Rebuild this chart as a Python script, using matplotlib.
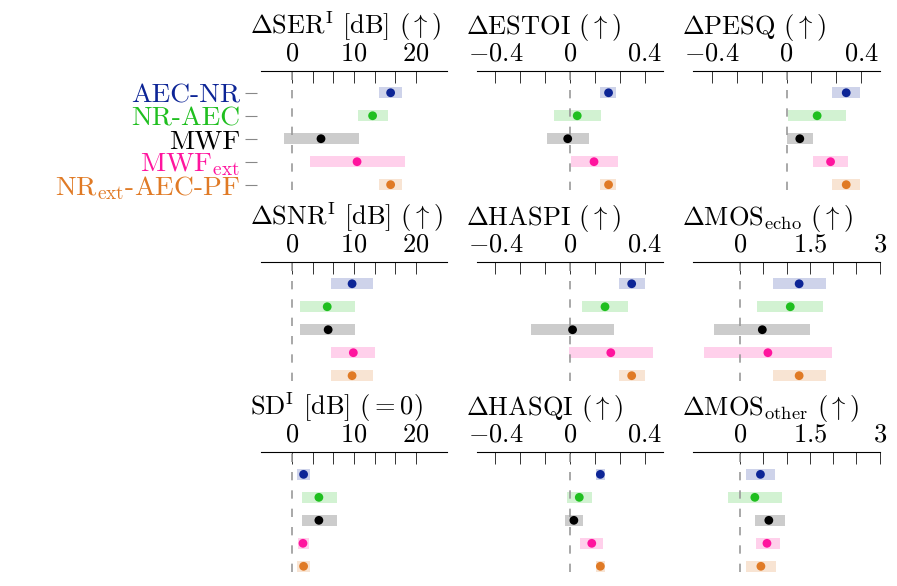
import numpy as np
import matplotlib.pyplot as plt

plt.rcParams['font.family'] = ['cmr10', 'DejaVu Serif']
plt.rcParams['mathtext.fontset'] = 'cm'
plt.rcParams['axes.formatter.use_mathtext'] = True

methods = ["AEC-NR", "NR-AEC", "MWF", r"MWF$_\mathrm{ext}$", r"NR$_\mathrm{ext}$-AEC-PF"]
colors = ["#0d2596", "#1fbf1f", "#000000", "#ff149e", "#e07a25"]

# low / median / high per method, one set per metric
ser_low = [14.0, 10.6, -1.3, 3.0, 14.0]
ser_mid = [15.9, 13.0, 4.7, 10.5, 15.9]
ser_high = [17.7, 15.4, 10.8, 18.2, 17.7]

estoi_low = [0.163, -0.087, -0.122, 0.005, 0.163]
estoi_mid = [0.207, 0.039, -0.012, 0.129, 0.207]
estoi_high = [0.248, 0.166, 0.104, 0.257, 0.248]

pesq_low = [0.244, 0.007, 0.002, 0.14, 0.244]
pesq_mid = [0.32, 0.164, 0.071, 0.236, 0.32]
pesq_high = [0.396, 0.32, 0.14, 0.332, 0.396]

snr_low = [6.3, 1.3, 1.3, 6.3, 6.3]
snr_mid = [9.7, 5.7, 5.85, 9.9, 9.7]
snr_high = [13.0, 10.2, 10.2, 13.35, 13.0]

haspi_low = [0.262, 0.065, -0.207, -0.005, 0.262]
haspi_mid = [0.331, 0.188, 0.014, 0.219, 0.331]
haspi_high = [0.402, 0.313, 0.234, 0.446, 0.402]

mos_echo_low = [0.70, 0.37, -0.55, -0.76, 0.70]
mos_echo_mid = [1.27, 1.08, 0.48, 0.60, 1.27]
mos_echo_high = [1.845, 1.79, 1.50, 1.97, 1.845]

sd_low = [0.9, 1.6, 1.6, 1.06, 0.9]
sd_mid = [1.9, 4.36, 4.36, 1.8, 1.9]
sd_high = [3.0, 7.2, 7.2, 2.7, 3.0]

hasqi_low = [0.138, -0.018, -0.028, 0.055, 0.138]
hasqi_mid = [0.163, 0.05, 0.021, 0.117, 0.163]
hasqi_high = [0.189, 0.117, 0.071, 0.177, 0.189]

mos_other_low = [0.13, -0.26, 0.32, 0.34, 0.12]
mos_other_mid = [0.44, 0.32, 0.62, 0.58, 0.45]
mos_other_high = [0.76, 0.90, 0.96, 0.85, 0.78]

titles = [
    r"$\Delta\mathrm{SER}^\mathrm{I}$ [dB] ($\uparrow$)",
    r"$\Delta$ESTOI ($\uparrow$)",
    r"$\Delta$PESQ ($\uparrow$)",
    r"$\Delta\mathrm{SNR}^\mathrm{I}$ [dB] ($\uparrow$)",
    r"$\Delta$HASPI ($\uparrow$)",
    r"$\Delta\mathrm{MOS}_\mathrm{echo}$ ($\uparrow$)",
    r"$\mathrm{SD}^\mathrm{I}$ [dB] $(=0)$",
    r"$\Delta$HASQI ($\uparrow$)",
    r"$\Delta\mathrm{MOS}_\mathrm{other}$ ($\uparrow$)",
]
panels = [
    (ser_low, ser_mid, ser_high),
    (estoi_low, estoi_mid, estoi_high),
    (pesq_low, pesq_mid, pesq_high),
    (snr_low, snr_mid, snr_high),
    (haspi_low, haspi_mid, haspi_high),
    (mos_echo_low, mos_echo_mid, mos_echo_high),
    (sd_low, sd_mid, sd_high),
    (hasqi_low, hasqi_mid, hasqi_high),
    (mos_other_low, mos_other_mid, mos_other_high),
]
db_ticks = [0, 10, 20]
corr_ticks = [-0.4, 0, 0.4]
mos_ticks = [0, 1.5, 3]
tick_sets = [db_ticks, corr_ticks, corr_ticks,
             db_ticks, corr_ticks, mos_ticks,
             db_ticks, corr_ticks, mos_ticks]
tick_text = {0: "$0$", 10: "$10$", 20: "$20$", -0.4: "$-0.4$", 0.4: "$0.4$",
             1.5: "$1.5$", 3: "$3$"}
xlims = [(-5, 25), (-0.5, 0.5), (-0.5, 0.5),
         (-5, 25), (-0.5, 0.5), (-1, 3),
         (-5, 25), (-0.5, 0.5), (-1, 3)]

W, H = 897, 586
fig = plt.figure(figsize=(W / 100, H / 100), dpi=100)
col_left = [260.7, 476.7, 693.3]
row_top = [70.7, 261.7, 452.3]
ax_w, ax_h = 186.5, 119.5
fs = 19
rows = np.arange(len(methods))

for i in range(9):
    r, c = divmod(i, 3)
    ax = fig.add_axes([col_left[c] / W, 1 - (row_top[r] + ax_h) / H, ax_w / W, ax_h / H])
    lo, mid, hi = (np.array(v) for v in panels[i])
    ax.barh(rows, hi - lo, left=lo, height=0.48, color=colors, alpha=0.2, lw=0, zorder=1)
    ax.axvline(0, color='#999999', lw=1.2, dashes=(5, 6), zorder=2)
    ax.scatter(mid, rows, s=40, c=colors, lw=0, zorder=3)
    ax.set_xlim(*xlims[i])
    ax.set_ylim(4.24, -0.96)

    t = tick_sets[i]
    ax.xaxis.tick_top()
    ax.set_xticks(t)
    ax.set_xticklabels([tick_text[v] for v in t], fontsize=fs)
    ax.set_xticks(np.linspace(t[0], t[-1], 7), minor=True)
    ax.tick_params(axis='x', which='both', direction='in', length=8.4, width=0.7,
                   color='#333333', pad=4)
    for s in ['bottom', 'left', 'right']:
        ax.spines[s].set_visible(False)
    ax.spines['top'].set_linewidth(0.8)

    if i == 0:
        # method names only on the first panel
        ax.spines['left'].set_position(('outward', 2.8))
        ax.set_yticks(rows)
        ax.set_yticklabels(methods, fontsize=19.8)
        for lab, col in zip(ax.get_yticklabels(), colors):
            lab.set_color(col)
        ax.tick_params(axis='y', length=8.6, width=0.8, color='#888888', pad=3.6)
    else:
        ax.set_yticks([])

    ax.annotate(titles[i], xy=(0, 1), xycoords='axes fraction', xytext=(-11, 37),
                textcoords='offset pixels', fontsize=fs, ha='left', va='baseline')

fig.savefig('out.png', dpi=100)
